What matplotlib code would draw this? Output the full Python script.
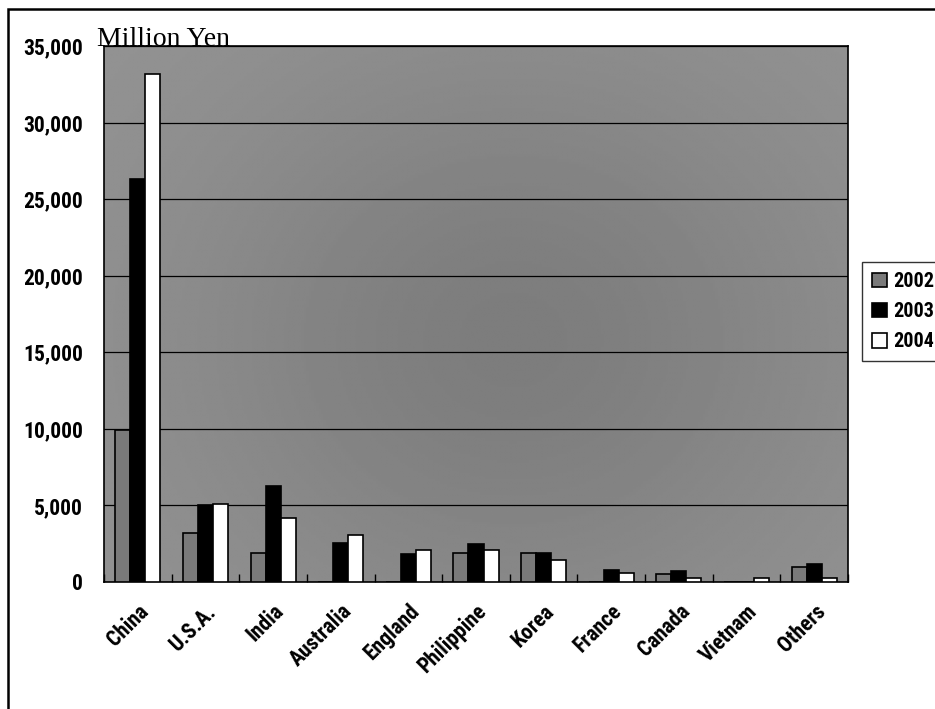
import numpy as np
import matplotlib
matplotlib.use("Agg")
import matplotlib.pyplot as plt
from matplotlib.patches import Rectangle
from matplotlib.ticker import FuncFormatter, MultipleLocator, FixedLocator

countries = ["China", "U.S.A.", "India", "Australia", "England", "Philippine",
             "Korea", "France", "Canada", "Vietnam", "Others"]
years = ["2002", "2003", "2004"]
values_2002 = [9900, 3220, 1870, 0, 0, 1870, 1870, 0, 500, 0, 980]
values_2003 = [26300, 5000, 6250, 2570, 1830, 2480, 1880, 780, 720, 0, 1180]
values_2004 = [33150, 5070, 4200, 3090, 2070, 2070, 1420, 560, 240, 240, 240]
series = [values_2002, values_2003, values_2004]
fills = ["#7a7a7a", "#000000", "#ffffff"]

narrow = ["Liberation Sans Narrow", "Roboto Condensed", "Liberation Sans"]

fig = plt.figure(figsize=(9.35, 7.09), dpi=100)
fig.patch.set_facecolor("white")
ax = fig.add_axes([104 / 935, 1 - 582 / 709, 744 / 935, 536 / 709])

# shaded plot area: a soft darker patch toward the middle
gy, gx = np.mgrid[0:1:200j, 0:1:300j]
shade = 0.58 - 0.09 * np.exp(-(((gx - 0.55) / 0.45) ** 2 + ((gy - 0.55) / 0.55) ** 2))
ax.imshow(shade, cmap="gray", vmin=0, vmax=1, extent=[0, 1, 0, 1],
          transform=ax.transAxes, aspect="auto", zorder=0, interpolation="bilinear")

x = np.arange(len(countries))
w = 1 / 4.5
for i, (vals, fc, yr) in enumerate(zip(series, fills, years)):
    ax.bar(x + (i - 1) * w, vals, width=w, color=fc, edgecolor="black",
           linewidth=1.2, label=yr, zorder=3)

ax.set_xlim(-0.5, len(countries) - 0.5)
ax.set_ylim(0, 35000)
ax.yaxis.set_major_locator(MultipleLocator(5000))
ax.yaxis.set_major_formatter(FuncFormatter(lambda v, p: f"{int(v):,}"))
ax.grid(axis="y", color="black", linewidth=0.9, zorder=1)
ax.set_axisbelow(True)

ax.set_xticks(x)
ax.set_xticklabels(countries, rotation=45, ha="right", va="top",
                   rotation_mode="anchor", family=narrow, fontweight="bold",
                   fontstretch="condensed", fontsize=15.5)
ax.xaxis.set_minor_locator(FixedLocator(np.arange(-0.5, len(countries), 1.0)))
ax.tick_params(axis="x", which="major", length=0, pad=13)
ax.tick_params(axis="x", which="minor", direction="in", length=6, width=1,
               color="black")
ax.tick_params(axis="y", length=0, pad=15)
for lab in ax.get_yticklabels():
    lab.set_family(narrow)
    lab.set_fontweight("bold")
    lab.set_fontstretch("condensed")
    lab.set_fontsize(15.5)

for sp in ax.spines.values():
    sp.set_color("black")
    sp.set_linewidth(1.2)

ax.text(-0.0094, 1.0, "Million Yen", transform=ax.transAxes, ha="left",
        va="baseline", family=["Liberation Serif", "DejaVu Serif"], fontsize=20,
        zorder=5)

leg = ax.legend(loc="upper left", bbox_to_anchor=(862 / 935, 1 - 262 / 709),
                bbox_transform=fig.transFigure, frameon=True, fancybox=False,
                borderaxespad=0, edgecolor="black", handlelength=0.75,
                handleheight=0.75, handletextpad=0.3, labelspacing=0.55,
                borderpad=0.5,
                prop={"family": narrow, "weight": "bold", "size": 14.5,
                      "stretch": "condensed"})
leg.get_frame().set_linewidth(1.0)

# outer frame around the chart
fig.patches.append(Rectangle((8 / 935, -0.05), 1.2, 1 - 9 / 709 + 0.05,
                             transform=fig.transFigure, fill=False,
                             edgecolor="black", linewidth=1.8))

fig.savefig("out.png", dpi=100)
